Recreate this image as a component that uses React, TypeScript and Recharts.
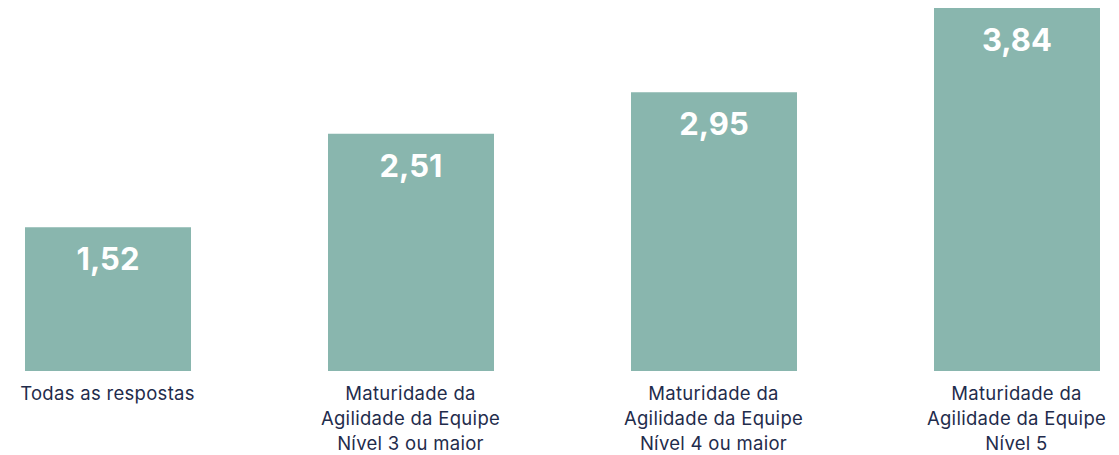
import { BarChart, Bar, XAxis, YAxis, LabelList } from 'recharts';

const categories = [
  'Todas as respostas',
  'Maturidade da\nAgilidade da Equipe\nNível 3 ou maior',
  'Maturidade da\nAgilidade da Equipe\nNível 4 ou maior',
  'Maturidade da\nAgilidade da Equipe\nNível 5',
];
const values = [1.52, 2.51, 2.95, 3.84];

const data = categories.map((name, i) => ({ name, value: values[i] }));

const FONT = "Inter, 'Noto Sans', sans-serif";

function CategoryTick(props: any) {
  const { x, y, payload } = props;
  const lines = String(payload.value).split('\n');
  return (
    <text x={x} y={y} textAnchor="middle" fill="#1f2c4c" fontSize={18.5} fontFamily={FONT} letterSpacing={0.3}>
      {lines.map((line, i) => (
        <tspan key={i} x={x} dy={i === 0 ? 21 : 25}>
          {line}
        </tspan>
      ))}
    </text>
  );
}

export default function App() {
  return (
    <div style={{ position: 'absolute', left: 0, top: 0, width: 1119, height: 455, overflow: 'hidden', background: '#fff' }}>
      <BarChart
        width={1119}
        height={455}
        data={data}
        margin={{ top: 8, right: -49, left: -44, bottom: 0 }}
        barSize={166}
      >
        <XAxis
          dataKey="name"
          axisLine={false}
          tickLine={false}
          height={84}
          interval={0}
          tick={<CategoryTick />}
        />
        <YAxis hide domain={[0, 3.84]} />
        <Bar dataKey="value" fill="#89b6ae" isAnimationActive={false}>
          <LabelList
            dataKey="value"
            position="insideTop"
            offset={21}
            fill="#ffffff"
            fontSize={31}
            fontWeight={700}
            fontFamily={FONT}
            formatter={(v: any) => Number(v).toFixed(2).replace('.', ',')}
          />
        </Bar>
      </BarChart>
    </div>
  );
}
